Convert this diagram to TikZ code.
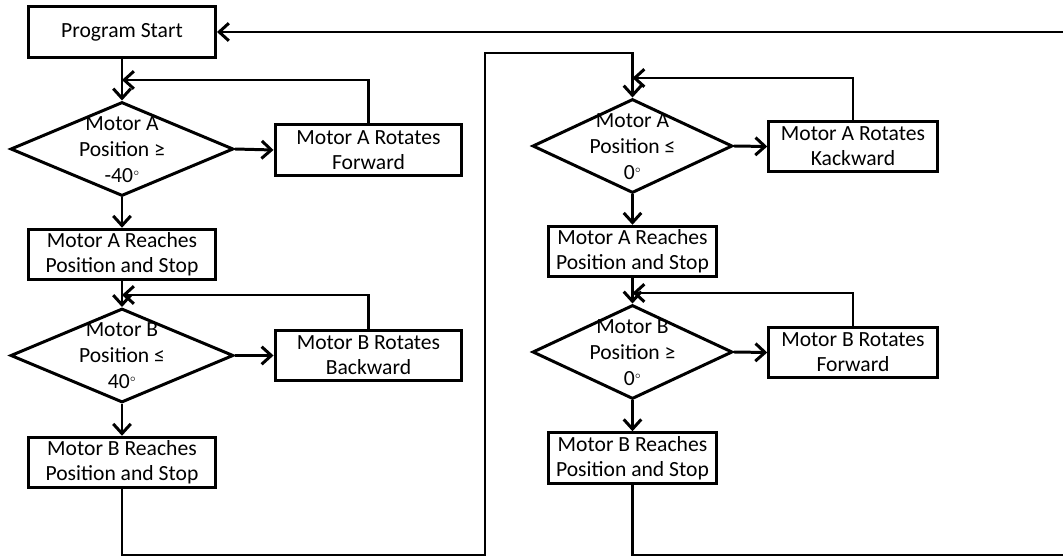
\documentclass[tikz,border=0pt]{standalone}
\usepackage{fontspec}
\setmainfont{Carlito}
\usepackage{tikz}
\usetikzlibrary{shapes.geometric,arrows.meta}

% diamond text must not widen the diamond
\newcommand{\dtext}[1]{\smash{\raisebox{-4.2pt}{\fontsize{12.3}{14.8}\selectfont
  \begin{tabular}{@{}c@{}}#1\end{tabular}}}}
\newcommand{\dg}{\raisebox{4pt}{\fontsize{5}{5}\selectfont$\circ$}}

\begin{document}
\begin{tikzpicture}[
  x=0.02cm, y=-0.02cm,
  every node/.style={font=\fontsize{12.3}{14.2}\selectfont},
  pbox/.style={draw, line width=1.7pt, align=center, inner sep=2pt,
               minimum width=3.74cm, minimum height=1.01cm},
  rbox/.style={pbox, minimum width=3.37cm},
  check/.style={draw, diamond, line width=1.7pt, inner sep=0pt,
                minimum width=4.46cm, minimum height=1.88cm},
  rcheck/.style={check, minimum width=4cm},
  arrow/.style={-{Straight Barb[length=5.5pt,width=10pt]}, line width=1.7pt},
]
  \useasboundingbox (0,0) rectangle (1063,557);

  % left column
  \node[pbox] (start) at (122,32) {Program Start};
  \node[check] (chkA) at (122,149) {\dtext{Motor A\\Position ≥\\-40\dg}};
  \node[pbox] (rotA) at (368.5,150) {Motor A Rotates\\Forward};
  \node[pbox] (stopA) at (122,254.5) {Motor A Reaches\\Position and Stop};
  \node[check] (chkB) at (122,355.5) {\dtext{Motor B\\Position ≤\\40\dg}};
  \node[pbox] (rotB) at (368.5,355.5) {Motor B Rotates\\Backward};
  \node[pbox] (stopB) at (122,462.5) {Motor B Reaches\\Position and Stop};

  % right column
  \node[rcheck] (chkA2) at (632.5,146) {\dtext{Motor A\\Position ≤\\0\dg}};
  \node[rbox] (rotA2) at (853,146.5) {Motor A Rotates\\Kackward};
  \node[rbox] (stopA2) at (632.5,251.5) {Motor A Reaches\\Position and Stop};
  \node[rcheck] (chkB2) at (632.5,352) {\dtext{Motor B\\Position ≥\\0\dg}};
  \node[rbox] (rotB2) at (853,352.5) {Motor B Rotates\\Forward};
  \node[rbox] (stopB2) at (632.5,458) {Motor B Reaches\\Position and Stop};

  % junctions and bends
  \coordinate (jA) at (122,80);
  \coordinate (jB) at (122,295);
  \coordinate (jA2) at (632.5,78);
  \coordinate (jB2) at (632.5,293);
  \coordinate (bendL) at (485,555);
  \coordinate (topL) at (485,53);
  \coordinate (edgeB) at (1068,555);
  \coordinate (edgeT) at (1068,32);

  % arrows, left column
  \draw[arrow] (start.south) -- (chkA.north);
  \draw[arrow] (chkA.east) -- (rotA.west);
  \draw[arrow] (rotA.north) |- (jA);
  \draw[arrow] (chkA.south) -- (stopA.north);
  \draw[arrow] (stopA.south) -- (chkB.north);
  \draw[arrow] (chkB.east) -- (rotB.west);
  \draw[arrow] (rotB.north) |- (jB);
  \draw[arrow] (chkB.south) -- (stopB.north);
  \draw[arrow] (stopB.south) |- (bendL) -- (topL) -| (chkA2.north);

  % arrows, right column
  \draw[arrow] (chkA2.east) -- (rotA2.west);
  \draw[arrow] (rotA2.north) |- (jA2);
  \draw[arrow] (chkA2.south) -- (stopA2.north);
  \draw[arrow] (stopA2.south) -- (chkB2.north);
  \draw[arrow] (chkB2.east) -- (rotB2.west);
  \draw[arrow] (rotB2.north) |- (jB2);
  \draw[arrow] (chkB2.south) -- (stopB2.north);
  \draw[arrow] (stopB2.south) |- (edgeB) -- (edgeT) -- (start.east);

\end{tikzpicture}
\end{document}
